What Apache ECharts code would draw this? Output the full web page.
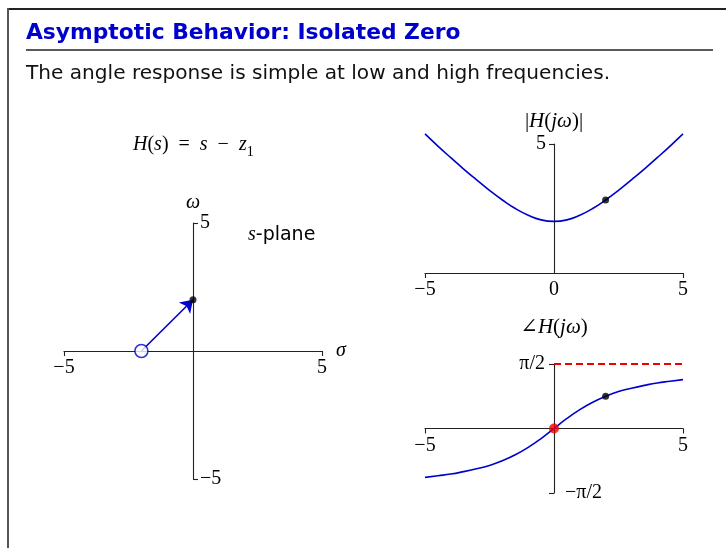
<!DOCTYPE html>
<html>
<head>
<meta charset="utf-8">
<script src="https://cdn.jsdelivr.net/npm/echarts@6/dist/echarts.min.js"></script>
<style>
  html, body { margin: 0; padding: 0; background: #fff; }
  #chart { width: 726px; height: 548px; }
</style>
</head>
<body>
<div id="chart"></div>
<script>
// s-plane: one zero and the test point on the jω axis
const zeroLoc = [-2, 0];
const testPoint = [0, 2];

// frequency samples (rad/s)
const omega = [-5, -4.5, -4, -3.5, -3, -2.5, -2, -1.5, -1, -0.5, 0,
               0.5, 1, 1.5, 2, 2.5, 3, 3.5, 4, 4.5, 5];
// magnitude |H(jω)|
const magnitude = [5.39, 4.92, 4.47, 4.03, 3.61, 3.20, 2.83, 2.50, 2.24, 2.06, 2.00,
                   2.06, 2.24, 2.50, 2.83, 3.20, 3.61, 4.03, 4.47, 4.92, 5.39];
// phase ∠H(jω) in radians
const phase = [-1.19, -1.15, -1.11, -1.05, -0.98, -0.90, -0.785, -0.64, -0.46, -0.245, 0,
               0.245, 0.46, 0.64, 0.785, 0.90, 0.98, 1.05, 1.11, 1.15, 1.19];

const HALF_PI = 1.5708;
const sPlaneTicks = [-5, 5];
const freqTicks = [-5, 5];
const magFreqLabels = [-5, 0, 5];
const magTicks = [5];
const phaseTicks = [-HALF_PI, HALF_PI];
const asymptote = [[0, HALF_PI], [5, HALF_PI]];
const markerMag = [2, 2.83];
const markerPhase = [2, 0.785];
const phaseOrigin = [0, 0];

const BLUE = '#0000cc';
const RED = '#ee0000';
const AXIS = '#222';
const SERIF = '"Liberation Serif", "DejaVu Serif", serif';
const SANS = '"DejaVu Sans", "Noto Sans", sans-serif';

const italic = { fontFamily: SERIF, fontStyle: 'italic', fontSize: 20, color: '#000' };
const upright = { fontFamily: SERIF, fontSize: 20, color: '#000' };
const tickFont = { fontFamily: SERIF, fontSize: 20, color: '#000' };

function fmtNum(v) {
  return v < 0 ? '\u2212' + Math.abs(v) : String(v);
}
function fmtPhase(v) {
  return v > 0 ? '\u03c0/2' : '\u2212\u03c0/2';
}

// axes sit at the origin of each panel through an inward offset
function axis(extra, ticks, labels, labelExtra, tickInside) {
  return Object.assign({
    type: 'value',
    splitLine: { show: false },
    axisLine: { show: true, onZero: false, lineStyle: { color: AXIS, width: 1.1 } },
    axisTick: ticks
      ? { show: true, inside: !!tickInside, length: 5, customValues: ticks, lineStyle: { color: AXIS, width: 1.1 } }
      : { show: false },
    axisLabel: Object.assign({ customValues: labels, margin: 8 }, tickFont, labelExtra)
  }, extra);
}

const chart = echarts.init(document.getElementById('chart'), null, { renderer: 'canvas' });

const option = {
  animation: false,
  backgroundColor: '#fff',
  grid: [
    { left: 64, top: 223, width: 258, height: 256 },
    { left: 425, top: 144, width: 258, height: 129 },
    { left: 425, top: 364, width: 258, height: 129 }
  ],
  xAxis: [
    axis({
      gridIndex: 0, min: -5, max: 5, position: 'bottom', offset: -128,
      name: '\u03c3', nameLocation: 'end', nameGap: 14,
      nameTextStyle: Object.assign({}, italic, { padding: [0, 0, 6, 0] })
    }, sPlaneTicks, sPlaneTicks, { formatter: fmtNum, margin: 7 }),
    axis({ gridIndex: 1, min: -5, max: 5, position: 'bottom' },
      freqTicks, magFreqLabels, { formatter: fmtNum, margin: 7 }),
    axis({ gridIndex: 2, min: -5, max: 5, position: 'bottom', offset: -64.5 },
      freqTicks, freqTicks, { formatter: fmtNum, margin: 7 })
  ],
  yAxis: [
    axis({
      gridIndex: 0, min: -5, max: 5, position: 'left', offset: -129,
      name: '\u03c9', nameLocation: 'end', nameGap: 10,
      nameTextStyle: Object.assign({}, italic)
    }, sPlaneTicks, sPlaneTicks, { formatter: fmtNum, inside: true, margin: 7 }, true),
    axis({
      gridIndex: 1, min: 0, max: 5, position: 'left', offset: -129,
      name: '|{i|H}({i|j\u03c9})|', nameLocation: 'end', nameGap: 12,
      nameTextStyle: Object.assign({}, upright, { fontSize: 21, rich: { i: Object.assign({}, italic, { fontSize: 21 }) } })
    }, magTicks, magTicks, { formatter: fmtNum, margin: 8 }),
    axis({
      gridIndex: 2, min: -HALF_PI, max: HALF_PI, position: 'left', offset: -129,
      name: '\u2220{i|H}({i|j\u03c9})', nameLocation: 'end', nameGap: 26,
      nameTextStyle: Object.assign({}, upright, { fontSize: 21, rich: { i: Object.assign({}, italic, { fontSize: 21 }) } })
    }, phaseTicks, [HALF_PI], { formatter: fmtPhase, margin: 9 }),
    // label-only companion axis carrying the lower phase limit on the right of the jω axis
    axis({
      gridIndex: 2, min: -HALF_PI, max: HALF_PI, position: 'right', offset: -129,
      axisLine: { show: false, onZero: false }
    }, null, [-HALF_PI], { formatter: fmtPhase, margin: 11 })
  ],
  series: [
    {
      type: 'lines', coordinateSystem: 'cartesian2d', xAxisIndex: 0, yAxisIndex: 0,
      data: [{ coords: [zeroLoc, testPoint] }],
      lineStyle: { color: BLUE, width: 1.6, opacity: 1 },
      symbol: ['none', 'arrow'], symbolSize: [0, 12],
      z: 3
    },
    {
      type: 'scatter', xAxisIndex: 0, yAxisIndex: 0, data: [zeroLoc],
      symbol: 'circle', symbolSize: 13,
      itemStyle: { color: '#fff', borderColor: BLUE, borderWidth: 1.6 },
      z: 4
    },
    {
      type: 'scatter', xAxisIndex: 0, yAxisIndex: 0, data: [testPoint],
      symbol: 'circle', symbolSize: 7, itemStyle: { color: '#000' }, z: 5
    },
    {
      type: 'line', xAxisIndex: 1, yAxisIndex: 1,
      data: omega.map((w, i) => [w, magnitude[i]]),
      smooth: true, showSymbol: false, clip: false,
      lineStyle: { color: BLUE, width: 1.6 }
    },
    {
      type: 'scatter', xAxisIndex: 1, yAxisIndex: 1, data: [markerMag],
      symbol: 'circle', symbolSize: 7, itemStyle: { color: '#000' }, z: 5
    },
    {
      type: 'line', xAxisIndex: 2, yAxisIndex: 2, data: asymptote,
      showSymbol: false, clip: false,
      lineStyle: { color: RED, width: 2, type: [7, 4] }
    },
    {
      type: 'line', xAxisIndex: 2, yAxisIndex: 2,
      data: omega.map((w, i) => [w, phase[i]]),
      smooth: true, showSymbol: false, clip: false,
      lineStyle: { color: BLUE, width: 1.6 }
    },
    {
      type: 'scatter', xAxisIndex: 2, yAxisIndex: 2, data: [markerPhase],
      symbol: 'circle', symbolSize: 7, itemStyle: { color: '#000' }, z: 5
    },
    {
      type: 'scatter', xAxisIndex: 2, yAxisIndex: 2, data: [phaseOrigin],
      symbol: 'circle', symbolSize: 10, itemStyle: { color: RED }, z: 6
    }
  ],
  graphic: [
    // slide frame
    { type: 'line', shape: { x1: 8, y1: 9, x2: 726, y2: 9 }, style: { stroke: '#222', lineWidth: 2 } },
    { type: 'line', shape: { x1: 8, y1: 8, x2: 8, y2: 548 }, style: { stroke: '#555', lineWidth: 2 } },
    // heading and rule
    {
      type: 'text', left: 26, top: 22,
      style: { text: 'Asymptotic Behavior: Isolated Zero', fontFamily: SANS, fontWeight: 'bold', fontSize: 21.8, fill: BLUE }
    },
    { type: 'line', shape: { x1: 26, y1: 50, x2: 713, y2: 50 }, style: { stroke: '#222', lineWidth: 1.5 } },
    {
      type: 'text', left: 26, top: 64,
      style: { text: 'The angle response is simple at low and high frequencies.', fontFamily: SANS, fontSize: 20.1, fill: '#111' }
    },
    // transfer function
    {
      type: 'text', left: 133, top: 135,
      style: {
        text: '{i|H}{r|(}{i|s}{r|)\u2002=\u2002}{i|s}{r|\u2002\u2212\u2002}{i|z}{sub|1}',
        rich: {
          i: Object.assign({}, italic, { lineHeight: 24, verticalAlign: 'bottom' }),
          r: Object.assign({}, upright, { lineHeight: 24, verticalAlign: 'bottom' }),
          sub: { fontFamily: SERIF, fontSize: 14, color: '#000', lineHeight: 24, verticalAlign: 'bottom', padding: [0, 0, -4, 0] }
        }
      }
    },
    {
      type: 'text', left: 248, top: 225,
      style: {
        text: '{i|s}{t|-plane}',
        rich: {
          i: Object.assign({}, italic, { lineHeight: 22 }),
          t: { fontFamily: SANS, fontSize: 19, color: '#111', lineHeight: 22 }
        }
      }
    }
  ]
};

chart.setOption(option);
</script>
</body>
</html>
